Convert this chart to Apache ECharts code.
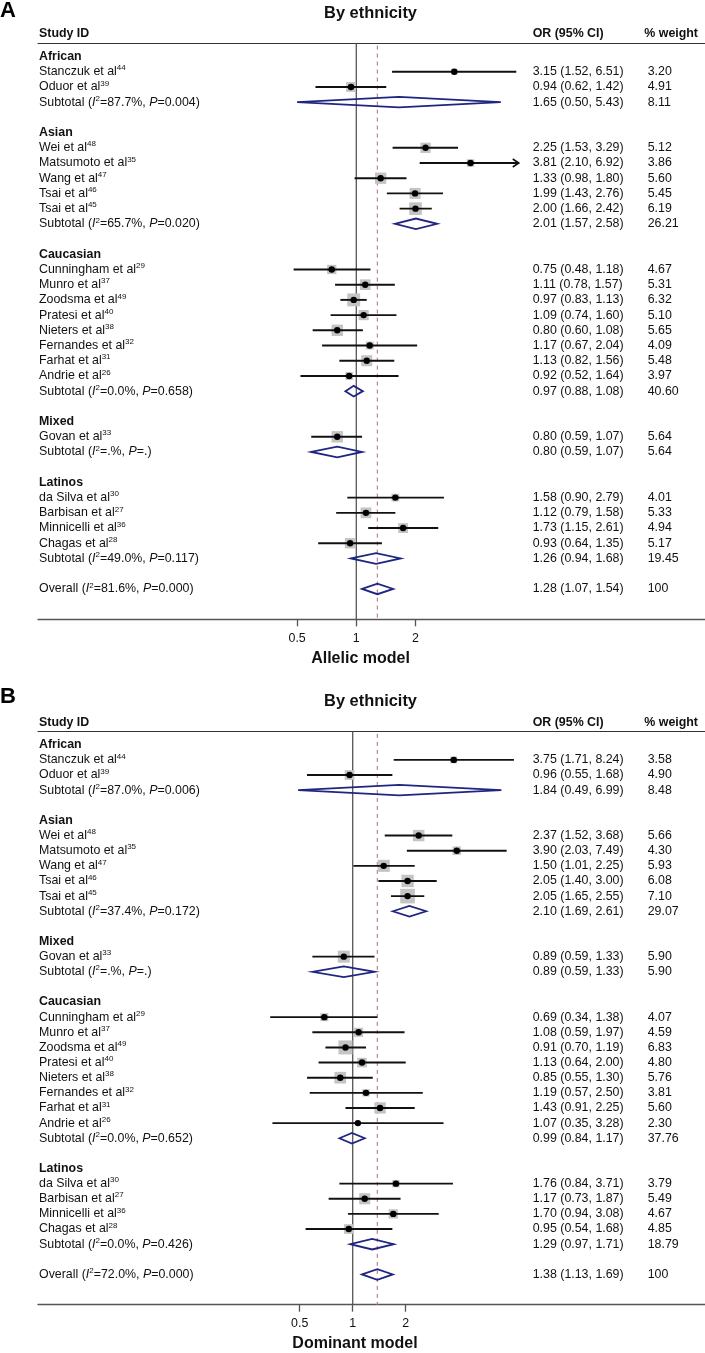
<!DOCTYPE html>
<html><head><meta charset="utf-8">
<script src="https://cdn.jsdelivr.net/npm/echarts@6/dist/echarts.min.js"></script>
<style>html,body{margin:0;padding:0;background:#fff}#c{width:705px;height:1353px}</style>
</head><body><div id="c"></div>
<script>
// ================= DATA =================
const tickValues = [0.5, 1, 2];
const panelTitle = 'By ethnicity';

// ---- Panel A : Allelic model ----
const groupNamesA = ['African', 'Asian', 'Caucasian', 'Mixed', 'Latinos'];
const groupSizesA = [2, 5, 8, 1, 4];
const studyNamesA = ['Stanczuk et al', 'Oduor et al', 'Wei et al', 'Matsumoto et al', 'Wang et al', 'Tsai et al', 'Tsai et al', 'Cunningham et al', 'Munro et al', 'Zoodsma et al', 'Pratesi et al', 'Nieters et al', 'Fernandes et al', 'Farhat et al', 'Andrie et al', 'Govan et al', 'da Silva et al', 'Barbisan et al', 'Minnicelli et al', 'Chagas et al'];
const studyRefsA = ['44', '39', '48', '35', '47', '46', '45', '29', '37', '49', '40', '38', '32', '31', '26', '33', '30', '27', '36', '28'];
const studyOrA = [3.15, 0.94, 2.25, 3.81, 1.33, 1.99, 2.00, 0.75, 1.11, 0.97, 1.09, 0.80, 1.17, 1.13, 0.92, 0.80, 1.58, 1.12, 1.73, 0.93];
const studyLowA = [1.52, 0.62, 1.53, 2.10, 0.98, 1.43, 1.66, 0.48, 0.78, 0.83, 0.74, 0.60, 0.67, 0.82, 0.52, 0.59, 0.90, 0.79, 1.15, 0.64];
const studyHighA = [6.51, 1.42, 3.29, 6.92, 1.80, 2.76, 2.42, 1.18, 1.57, 1.13, 1.60, 1.08, 2.04, 1.56, 1.64, 1.07, 2.79, 1.58, 2.61, 1.35];
const studyWeightA = [3.20, 4.91, 5.12, 3.86, 5.60, 5.45, 6.19, 4.67, 5.31, 6.32, 5.10, 5.65, 4.09, 5.48, 3.97, 5.64, 4.01, 5.33, 4.94, 5.17];
const subOrA = [1.65, 2.01, 0.97, 0.80, 1.26];
const subLowA = [0.50, 1.57, 0.88, 0.59, 0.94];
const subHighA = [5.43, 2.58, 1.08, 1.07, 1.68];
const subWeightA = [8.11, 26.21, 40.60, 5.64, 19.45];
const subI2A = ['87.7', '65.7', '0.0', '.', '49.0'];
const subPA = ['0.004', '0.020', '0.658', '.', '0.117'];
const overallA = [1.28, 1.07, 1.54];
const overallWeightA = 100;
const overallI2A = '81.6';
const overallPA = '0.000';
const axisNameA = 'Allelic model';

// ---- Panel B : Dominant model ----
const groupNamesB = ['African', 'Asian', 'Mixed', 'Caucasian', 'Latinos'];
const groupSizesB = [2, 5, 1, 8, 4];
const studyNamesB = ['Stanczuk et al', 'Oduor et al', 'Wei et al', 'Matsumoto et al', 'Wang et al', 'Tsai et al', 'Tsai et al', 'Govan et al', 'Cunningham et al', 'Munro et al', 'Zoodsma et al', 'Pratesi et al', 'Nieters et al', 'Fernandes et al', 'Farhat et al', 'Andrie et al', 'da Silva et al', 'Barbisan et al', 'Minnicelli et al', 'Chagas et al'];
const studyRefsB = ['44', '39', '48', '35', '47', '46', '45', '33', '29', '37', '49', '40', '38', '32', '31', '26', '30', '27', '36', '28'];
const studyOrB = [3.75, 0.96, 2.37, 3.90, 1.50, 2.05, 2.05, 0.89, 0.69, 1.08, 0.91, 1.13, 0.85, 1.19, 1.43, 1.07, 1.76, 1.17, 1.70, 0.95];
const studyLowB = [1.71, 0.55, 1.52, 2.03, 1.01, 1.40, 1.65, 0.59, 0.34, 0.59, 0.70, 0.64, 0.55, 0.57, 0.91, 0.35, 0.84, 0.73, 0.94, 0.54];
const studyHighB = [8.24, 1.68, 3.68, 7.49, 2.25, 3.00, 2.55, 1.33, 1.38, 1.97, 1.19, 2.00, 1.30, 2.50, 2.25, 3.28, 3.71, 1.87, 3.08, 1.68];
const studyWeightB = [3.58, 4.90, 5.66, 4.30, 5.93, 6.08, 7.10, 5.90, 4.07, 4.59, 6.83, 4.80, 5.76, 3.81, 5.60, 2.30, 3.79, 5.49, 4.67, 4.85];
const subOrB = [1.84, 2.10, 0.89, 0.99, 1.29];
const subLowB = [0.49, 1.69, 0.59, 0.84, 0.97];
const subHighB = [6.99, 2.61, 1.33, 1.17, 1.71];
const subWeightB = [8.48, 29.07, 5.90, 37.76, 18.79];
const subI2B = ['87.0', '37.4', '.', '0.0', '0.0'];
const subPB = ['0.006', '0.172', '.', '0.652', '0.426'];
const overallB = [1.38, 1.13, 1.69];
const overallWeightB = 100;
const overallI2B = '72.0';
const overallPB = '0.000';
const axisNameB = 'Dominant model';

// ================= LAYOUT / STYLE =================
const FONT = "'Liberation Sans', Arial, Helvetica, sans-serif";
const FS = 12.4;
const GRID_LEFT = 38, GRID_WIDTH = 667, GRID_HEIGHT = 576;
const ROW_MIN = -0.87, ROW_MAX = 37.0;
const HEADER_ROW = -1.48;
const COL_X = { name: 39, or: 532.7, w: 647.7, wHead: 644.3 };
const PANEL_SHIFT = 688.3;

function fmtCI(o, l, h) { return o.toFixed(2) + ' (' + l.toFixed(2) + ', ' + h.toFixed(2) + ')'; }
function fmtW(w) { return w === 100 ? '100' : w.toFixed(2); }

function buildPanel(d) {
  const studies = [], diamonds = [], texts = [];
  texts.push({ row: HEADER_ROW, col: 'name', text: 'Study ID', bold: true });
  texts.push({ row: HEADER_ROW, col: 'or', text: 'OR (95% CI)', bold: true });
  texts.push({ row: HEADER_ROW, col: 'wHead', text: '% weight', bold: true });
  let r = 0, s = 0;
  d.groups.forEach((g, gi) => {
    texts.push({ row: r, col: 'name', text: g, bold: true }); r++;
    for (let k = 0; k < d.sizes[gi]; k++, s++) {
      studies.push([d.or[s], r, d.low[s], d.high[s], d.weight[s]]);
      texts.push({ row: r, col: 'name', text: d.names[s] + '{sup|' + d.refs[s] + '}' });
      texts.push({ row: r, col: 'or', text: fmtCI(d.or[s], d.low[s], d.high[s]) });
      texts.push({ row: r, col: 'w', text: fmtW(d.weight[s]) });
      r++;
    }
    diamonds.push([d.subOr[gi], r, d.subLow[gi], d.subHigh[gi]]);
    texts.push({ row: r, col: 'name', text: 'Subtotal ({it|I}{sup|2}=' + d.subI2[gi] + '%, {it|P}=' + d.subP[gi] + ')' });
    texts.push({ row: r, col: 'or', text: fmtCI(d.subOr[gi], d.subLow[gi], d.subHigh[gi]) });
    texts.push({ row: r, col: 'w', text: fmtW(d.subW[gi]) });
    r += 2;
  });
  diamonds.push([d.overall[0], r, d.overall[1], d.overall[2]]);
  texts.push({ row: r, col: 'name', text: 'Overall ({it|I}{sup|2}=' + d.oI2 + '%, {it|P}=' + d.oP + ')' });
  texts.push({ row: r, col: 'or', text: fmtCI(d.overall[0], d.overall[1], d.overall[2]) });
  texts.push({ row: r, col: 'w', text: fmtW(d.oW) });
  return { studies, diamonds, texts };
}

const panelA = buildPanel({ groups: groupNamesA, sizes: groupSizesA, names: studyNamesA, refs: studyRefsA, or: studyOrA, low: studyLowA, high: studyHighA, weight: studyWeightA, subOr: subOrA, subLow: subLowA, subHigh: subHighA, subW: subWeightA, subI2: subI2A, subP: subPA, overall: overallA, oW: overallWeightA, oI2: overallI2A, oP: overallPA });
const panelB = buildPanel({ groups: groupNamesB, sizes: groupSizesB, names: studyNamesB, refs: studyRefsB, or: studyOrB, low: studyLowB, high: studyHighB, weight: studyWeightB, subOr: subOrB, subLow: subLowB, subHigh: subHighB, subW: subWeightB, subI2: subI2B, subP: subPB, overall: overallB, oW: overallWeightB, oI2: overallI2B, oP: overallPB });

const layouts = [
  { top: 43.3, pxOne: 356.3, perDoubling: 59.2, clipMax: 6.7, nameGap: 31.5, namePadRight: 22 },
  { top: 43.3 + PANEL_SHIFT, pxOne: 352.7, perDoubling: 53.0, clipMax: null, nameGap: 31.3, namePadRight: 33 }
];
const panels = [panelA, panelB];
const overalls = [overallA, overallB];
const axisNames = [axisNameA, axisNameB];

const richStyles = {
  sup: { fontSize: 8, lineHeight: 9, verticalAlign: 'top', fontFamily: FONT, fill: '#111' },
  it: { fontStyle: 'italic', fontSize: FS, lineHeight: 15, fontFamily: FONT, fill: '#111' }
};

function studyRender(clipMax) {
  return function (params, api) {
    const o = api.value(0), row = api.value(1), lo = api.value(2), hi = api.value(3), w = api.value(4);
    const pC = api.coord([o, row]);
    const pL = api.coord([lo, row]);
    const hiDraw = (clipMax && hi > clipMax) ? clipMax : hi;
    const pH = api.coord([hiDraw, row]);
    const side = Math.max(0, 2.2 * w - 1);
    const ch = [];
    if (side > 0) ch.push({ type: 'rect', shape: { x: pC[0] - side / 2, y: pC[1] - side / 2, width: side, height: side }, style: { fill: '#c4c4c4' } });
    ch.push({ type: 'line', shape: { x1: pL[0], y1: pL[1], x2: pH[0], y2: pH[1] }, style: { stroke: '#111', lineWidth: 1.9 } });
    if (hiDraw < hi) {
      ch.push({ type: 'polyline', shape: { points: [[pH[0] - 6, pH[1] - 4], [pH[0], pH[1]], [pH[0] - 6, pH[1] + 4]] }, style: { stroke: '#111', lineWidth: 1.6, fill: null } });
    }
    ch.push({ type: 'circle', shape: { cx: pC[0], cy: pC[1], r: 3.2 }, style: { fill: '#000' } });
    return { type: 'group', children: ch };
  };
}

function diamondRender(params, api) {
  const o = api.value(0), row = api.value(1), lo = api.value(2), hi = api.value(3);
  const pC = api.coord([o, row]), pL = api.coord([lo, row]), pH = api.coord([hi, row]);
  const h = 5.3;
  return {
    type: 'polygon',
    shape: { points: [[pL[0], pC[1]], [pC[0], pC[1] - h], [pH[0], pC[1]], [pC[0], pC[1] + h]] },
    style: { fill: 'rgba(0,0,0,0)', stroke: '#1f2582', lineWidth: 1.8, lineJoin: 'miter' }
  };
}

function textRender(texts) {
  return function (params, api) {
    const t = texts[api.value(2)];
    const p = api.coord([1, t.row]);
    return {
      type: 'text',
      x: COL_X[t.col], y: p[1],
      style: {
        text: t.text, fill: '#111', fontSize: FS, fontFamily: FONT,
        fontWeight: t.bold ? 'bold' : 'normal', lineHeight: 15,
        align: 'left', verticalAlign: 'middle', textAlign: 'left', textVerticalAlign: 'middle',
        rich: richStyles
      }
    };
  };
}

const grids = [], xAxes = [], yAxes = [], series = [];
layouts.forEach((L, i) => {
  grids.push({ left: GRID_LEFT, top: L.top, width: GRID_WIDTH, height: GRID_HEIGHT, show: false });
  const minX = Math.pow(2, -(L.pxOne - GRID_LEFT) / L.perDoubling);
  const maxX = Math.pow(2, (GRID_LEFT + GRID_WIDTH - L.pxOne) / L.perDoubling);
  xAxes.push({
    type: 'log', logBase: 2, gridIndex: i, min: minX, max: maxX, position: 'bottom',
    axisLine: { show: true, onZero: false, lineStyle: { color: '#555', width: 1.3 } },
    axisTick: { show: true, length: 7, customValues: tickValues, lineStyle: { color: '#555', width: 1.3 } },
    axisLabel: { show: true, customValues: tickValues, margin: 13, fontSize: FS, color: '#111', fontFamily: FONT, formatter: v => String(v) },
    minorTick: { show: false }, splitLine: { show: false }, minorSplitLine: { show: false },
    name: axisNames[i], nameLocation: 'middle', nameGap: L.nameGap,
    nameTextStyle: { fontSize: 16, fontWeight: 'bold', color: '#111', fontFamily: FONT, padding: [0, L.namePadRight, 0, 0] }
  });
  xAxes.push({
    type: 'value', gridIndex: i, position: 'top', min: 0, max: 1,
    axisLine: { show: true, onZero: false, lineStyle: { color: '#333', width: 1.2 } },
    axisTick: { show: false }, axisLabel: { show: false }, splitLine: { show: false }
  });
  yAxes.push({ type: 'value', gridIndex: i, inverse: true, min: ROW_MIN, max: ROW_MAX, show: false, splitLine: { show: false } });

  const xi = i * 2, yi = i;
  series.push({
    type: 'line', xAxisIndex: xi, yAxisIndex: yi, symbol: 'none', silent: true, z: 1,
    data: [[1, ROW_MIN], [1, ROW_MAX]], lineStyle: { color: '#555', width: 1.3 }
  });
  series.push({
    type: 'line', xAxisIndex: xi, yAxisIndex: yi, symbol: 'none', silent: true, z: 1,
    data: [[overalls[i][0], ROW_MIN + 0.15], [overalls[i][0], ROW_MAX]], lineStyle: { color: '#c97f89', width: 1.2, type: [4, 4] }
  });
  series.push({
    type: 'custom', xAxisIndex: xi, yAxisIndex: yi, z: 3, silent: true,
    renderItem: studyRender(L.clipMax), data: panels[i].studies, encode: { x: 0, y: 1 }
  });
  series.push({
    type: 'custom', xAxisIndex: xi, yAxisIndex: yi, z: 3, silent: true,
    renderItem: diamondRender, data: panels[i].diamonds, encode: { x: 0, y: 1 }
  });
  series.push({
    type: 'custom', xAxisIndex: xi, yAxisIndex: yi, z: 4, silent: true, clip: false,
    renderItem: textRender(panels[i].texts),
    data: panels[i].texts.map((t, k) => [1, t.row, k]), encode: { x: 0, y: 1 }
  });
});

const titleStyleBig = { fontSize: 22, fontWeight: 'bold', color: '#000', fontFamily: FONT, lineHeight: 22 };
const titleStyleMid = { fontSize: 16.4, fontWeight: 'bold', color: '#111', fontFamily: FONT, lineHeight: 18 };
const chart = echarts.init(document.getElementById('c'), null, { renderer: 'canvas' });
chart.setOption({
  backgroundColor: '#fff',
  animation: false,
  title: [
    { text: 'A', left: 0, top: 0, padding: 0, textStyle: titleStyleBig },
    { text: panelTitle, left: 370.5, top: 4, padding: 0, textAlign: 'center', textStyle: titleStyleMid },
    { text: 'B', left: 0, top: PANEL_SHIFT - 2, padding: 0, textStyle: titleStyleBig },
    { text: panelTitle, left: 370.5, top: 4 + PANEL_SHIFT, padding: 0, textAlign: 'center', textStyle: titleStyleMid }
  ],
  grid: grids,
  xAxis: xAxes,
  yAxis: yAxes,
  series: series
});
</script>
</body></html>
